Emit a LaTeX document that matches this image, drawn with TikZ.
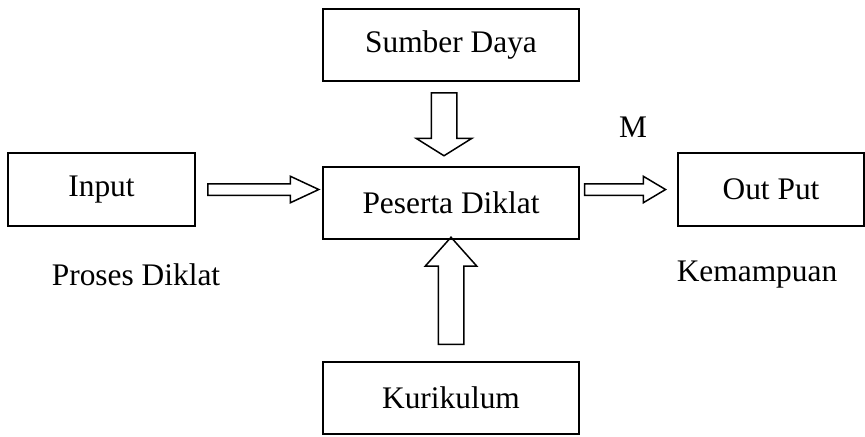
\documentclass[tikz,border=0pt]{standalone}
\usepackage{fontspec}
\setmainfont{Liberation Serif}
\usetikzlibrary{shapes.arrows}

\tikzset{
  box/.style={draw, line width=1pt, inner sep=0pt, minimum width=128pt, minimum height=36pt},
  sidebox/.style={box, minimum width=93.5pt, minimum height=36.5pt},
  blockarrow/.style={single arrow, draw, line width=0.75pt, single arrow head indent=0pt}
}

\begin{document}
\begin{tikzpicture}[x=0.5pt, y=-0.5pt, every node/.style={font=\fontsize{15.7}{19}\selectfont}]
  \useasboundingbox (0,0) rectangle (865,436);
  % middle column
  \node[box] (peserta) at (451,203) {Peserta Diklat};
  \node[box] (sumber) at (451,45) {Sumber Daya};
  \node[box] (kurikulum) at (451,398) {Kurikulum};

  % left and right boxes
  \node[sidebox] (input) at (101.5,189.5) {Input};
  \node[sidebox, minimum width=93pt] (output) at (771,189.5) {Out Put};

  % loose labels
  \node (m) at (633,127) {M};
  \node (proses) at (136,275) {Proses Diklat};
  \node (kemampuan) at (757,275) {Kemampuan};

  % block arrows
  \node[blockarrow, inner sep=2.5pt, minimum height=55.5pt, minimum width=12.5pt, single arrow head extend=3.75pt,
        single arrow tip angle=50, anchor=tail] (inarrow) at ([xshift=5.5pt]input.east) {};
  \node[blockarrow, inner sep=2.5pt, minimum height=40.5pt, minimum width=12.5pt, single arrow head extend=3.75pt,
        single arrow tip angle=61.5, anchor=tip] (outarrow) at ([xshift=-5pt]output.west) {};
  \node[blockarrow, inner sep=6pt, shape border rotate=270, minimum height=31.5pt, minimum width=27pt,
        single arrow head extend=7.5pt, single arrow tip angle=116, anchor=tail] (sumberarrow)
        at ([xshift=-3.5pt, yshift=-5pt]sumber.south) {};
  \node[blockarrow, inner sep=6pt, shape border rotate=90, minimum height=53.5pt, minimum width=25pt,
        single arrow head extend=6.5pt, single arrow tip angle=83.5, anchor=tail] (kurikulumarrow)
        at ([yshift=8pt]kurikulum.north) {};
\end{tikzpicture}
\end{document}
